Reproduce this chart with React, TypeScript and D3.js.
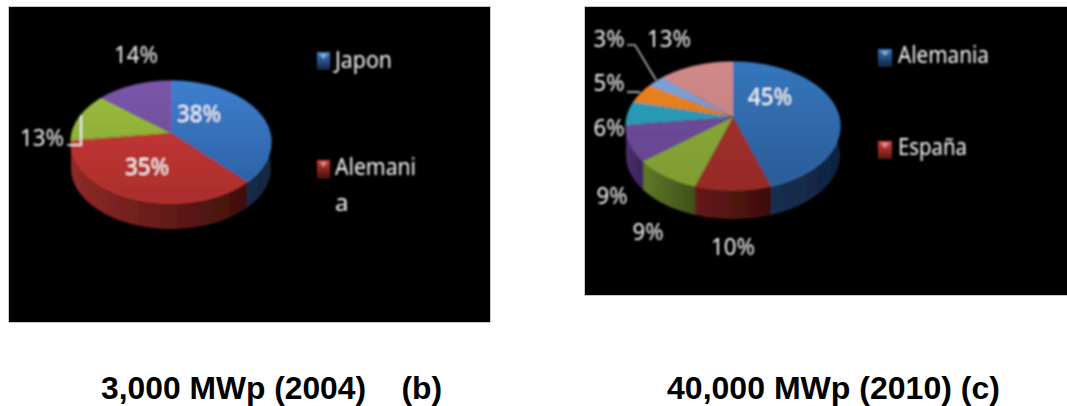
import React from "react";
import * as d3 from "d3";

// ---- data ----
const leftValues = [38, 35, 13, 14];
const rightValues = [45, 10, 9, 9, 6, 5, 3, 13];
const leftLegend = ["Japon", "Alemania"];
const rightLegend = ["Alemania", "España"];
const captions = ["3,000 MWp (2004)    (b)", "40,000 MWp (2010) (c)"];

// top-face [light, dark], wall [light, dark]
const leftColors = [
  ["#3f7fd0", "#2a5c9c", "#213f66", "#12253f"],
  ["#d03a36", "#aa2e2c", "#8f2a27", "#3f0f0c"],
  ["#9bbd3c", "#85a235", "#5f7a28", "#465a1e"],
  ["#7a55a8", "#674a94", "#4a2f6c", "#33204c"],
];
const rightColors = [
  ["#3576bd", "#2a5c96", "#1b3558", "#0f2340"],
  ["#a8322e", "#962b28", "#661a17", "#3b0e0b"],
  ["#8fae38", "#7f9c33", "#5f7a28", "#3f5019"],
  ["#744c9e", "#64448e", "#4a2f6c", "#3a2458"],
  ["#2ca0bb", "#2790a9", "#1c6a80", "#145060"],
  ["#ea8420", "#d9761c", "#a85a14", "#80440e"],
  ["#7ea2d6", "#6e93c8", "#4a6a9c", "#3a5680"],
  ["#d08a8a", "#bd7a7a", "#8f5656", "#6f4040"],
];

type Pie3D = {
  id: string; values: number[]; colors: string[][];
  cx: number; cy: number; rx: number; back: number; front: number; depth: number;
};
const leftPie: Pie3D = { id: "l", values: leftValues, colors: leftColors, cx: 171, cy: 133, rx: 100, back: 52, front: 70, depth: 26 };
const rightPie: Pie3D = { id: "r", values: rightValues, colors: rightColors, cx: 733, cy: 117, rx: 107, back: 55, front: 73, depth: 29 };

const leftLabels = [
  { t: "38%", x: 199, y: 122 }, { t: "35%", x: 147, y: 175 },
  { t: "13%", x: 42, y: 146 }, { t: "14%", x: 136, y: 63 },
];
const rightLabels = [
  { t: "45%", x: 770, y: 105 }, { t: "10%", x: 733, y: 255 }, { t: "9%", x: 648, y: 240 },
  { t: "9%", x: 612, y: 204 }, { t: "6%", x: 609, y: 136 }, { t: "5%", x: 609, y: 91 },
  { t: "3%", x: 609, y: 47 }, { t: "13%", x: 669, y: 47 },
];

const FONT = "'Noto Sans', 'Open Sans', sans-serif";

// perspective projection of a tilted disc: the centre sits above the ellipse's midpoint
function projector(p: Pie3D) {
  const k = (p.back - p.front) / (p.back + p.front);
  const A = p.front * (1 + k);
  const Ax = p.rx * Math.sqrt(1 - k * k);
  return (a: number, dy = 0): [number, number] => {
    const u = Math.sin(a), v = -Math.cos(a), den = 1 + k * v;
    return [p.cx + (Ax * u) / den, p.cy + (A * v) / den + dy];
  };
}

function arcPts(p: Pie3D, a0: number, a1: number, dy = 0) {
  const proj = projector(p);
  const n = Math.max(2, Math.ceil((a1 - a0) / 0.03));
  return d3.range(n + 1).map((i) => proj(a0 + ((a1 - a0) * i) / n, dy));
}

function Pie({ p }: { p: Pie3D }) {
  const arcs = d3.pie<number>().sort(null).value((d) => d)(p.values);
  const line = d3.line();
  const order = arcs
    .map((a, i) => ({ a, i, mid: -Math.cos((a.startAngle + a.endAngle) / 2) }))
    .sort((x, y) => x.mid - y.mid);
  const top = p.cy - p.back, bot = p.cy + p.front;
  return (
    <g>
      <defs>
        {arcs.map((a, i) => {
          const pts = arcPts(p, a.startAngle, a.endAngle);
          const xs = d3.extent(pts, (d) => d[0]) as [number, number];
          return (
            <React.Fragment key={i}>
              <linearGradient id={`${p.id}t${i}`} gradientUnits="userSpaceOnUse" x1={0} x2={0} y1={top} y2={bot}>
                <stop offset="0" stopColor={p.colors[i][0]} />
                <stop offset="1" stopColor={p.colors[i][1]} />
              </linearGradient>
              <linearGradient id={`${p.id}w${i}`} gradientUnits="userSpaceOnUse" x1={xs[0]} x2={xs[1]} y1={0} y2={0}>
                <stop offset="0" stopColor={p.colors[i][2]} />
                <stop offset="1" stopColor={p.colors[i][3]} />
              </linearGradient>
            </React.Fragment>
          );
        })}
      </defs>
      {order.map(({ a, i }) => {
        const upper = arcPts(p, a.startAngle, a.endAngle);
        const lower = arcPts(p, a.startAngle, a.endAngle, p.depth).reverse();
        return <path key={i} d={(line([...upper, ...lower]) ?? "") + "Z"} fill={`url(#${p.id}w${i})`} />;
      })}
      {arcs.map((a, i) => {
        const pts = arcPts(p, a.startAngle, a.endAngle);
        return <path key={i} d={(line([[p.cx, p.cy], ...pts]) ?? "") + "Z"} fill={`url(#${p.id}t${i})`} />;
      })}
      {arcs.map((a, i) => (
        <path key={i} d={line(arcPts(p, a.startAngle, a.endAngle)) ?? ""} fill="none" stroke={p.colors[i][0]} strokeWidth={1.5} opacity={0.7} />
      ))}
    </g>
  );
}

function Swatch({ x, y, w, h, c }: { x: number; y: number; w: number; h: number; c: string[] }) {
  const id = `sw${x}${y}`;
  return (
    <g>
      <defs>
        <linearGradient id={id} x1="0" x2="0" y1="0" y2="1">
          <stop offset="0" stopColor={c[0]} />
          <stop offset="1" stopColor={c[3]} />
        </linearGradient>
      </defs>
      <rect x={x} y={y} width={w} height={h} fill={`url(#${id})`} />
      <path d={`M${x + 3},${y + 2}H${x + w - 3}L${x + w / 2},${y + 7}Z`} fill="#ffffff" opacity={0.45} />
    </g>
  );
}

const txt = { fontFamily: FONT, fill: "#f8f8f8", fontSize: 24, lengthAdjust: "spacingAndGlyphs" } as const;
const capTxt = { fontFamily: "'Liberation Sans', Arial, sans-serif", fontWeight: "bold", fontSize: 31, fill: "#000", lengthAdjust: "spacingAndGlyphs" } as const;

export default function App() {
  return (
    <svg width={1067} height={406} style={{ position: "absolute", left: 0, top: 0, background: "#fff" }}>
      <defs>
        <filter id="soft" x="-5%" y="-5%" width="110%" height="110%">
          <feGaussianBlur stdDeviation="0.8" />
        </filter>
      </defs>
      <rect x={8.5} y={6.5} width={482} height={316} fill="#000" stroke="#c8c8c8" />
      <rect x={584.5} y={6.5} width={490} height={289} fill="#000" stroke="#c8c8c8" />
      <g filter="url(#soft)">
        <Pie p={leftPie} />
        <Pie p={rightPie} />
        {[...leftLabels, ...rightLabels].map((l, i) => (
          <text key={i} x={l.x} y={l.y} textAnchor="middle" {...txt} textLength={l.t.length === 3 ? 44 : 31}>{l.t}</text>
        ))}
        <polyline points="81,115 81,145 67,145" fill="none" stroke="#fff" strokeWidth={1.6} />
        <polyline points="627,45 635,45 656,80" fill="none" stroke="#bbb" strokeWidth={1.5} />
        <polyline points="627,92 640,92" fill="none" stroke="#ddd" strokeWidth={1.5} />

        <Swatch x={317} y={52} w={13} h={18} c={leftColors[0]} />
        <text x={335} y={68} {...txt} textLength={57}>{leftLegend[0]}</text>
        <Swatch x={317} y={160} w={13} h={19} c={leftColors[1]} />
        <text x={335} y={175} {...txt} textLength={81}>{leftLegend[1].slice(0, 7)}</text>
        <text x={335} y={211} {...txt}>{leftLegend[1].slice(7)}</text>

        <Swatch x={878} y={49} w={14} h={18} c={rightColors[0]} />
        <text x={898} y={63} {...txt} textLength={91}>{rightLegend[0]}</text>
        <Swatch x={878} y={141} w={14} h={18} c={["#d8443e", "", "", "#5a1715"]} />
        <text x={898} y={155} {...txt} textLength={69}>{rightLegend[1]}</text>
      </g>
      <text x={101} y={399} {...capTxt} textLength={341} style={{ whiteSpace: "pre" }}>{captions[0]}</text>
      <text x={667} y={399} {...capTxt} textLength={333}>{captions[1]}</text>
    </svg>
  );
}
